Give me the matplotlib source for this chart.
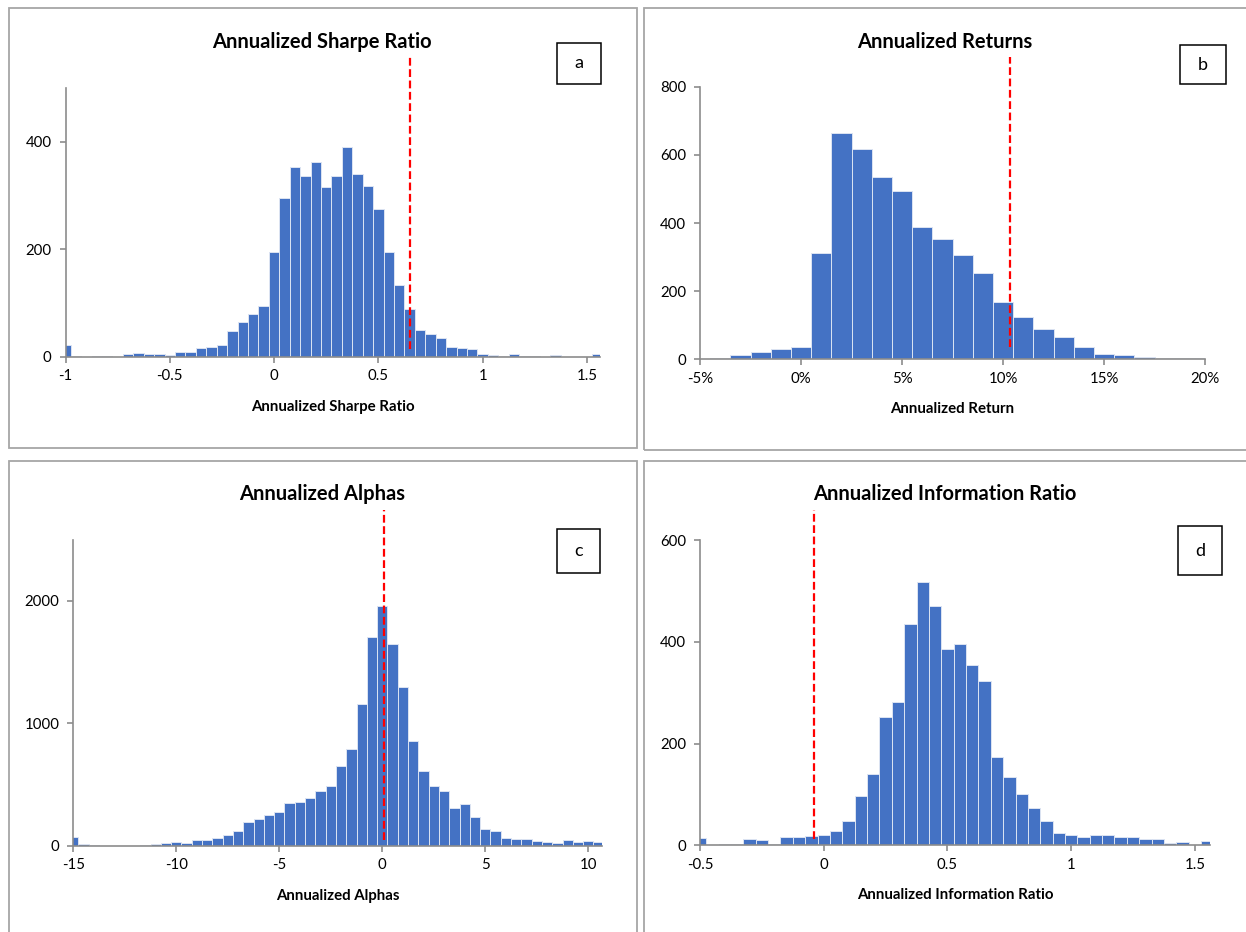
import numpy as np
import matplotlib
matplotlib.use("Agg")
import matplotlib.pyplot as plt
from matplotlib.patches import Rectangle

plt.rcParams["font.family"] = ["Lato", "DejaVu Sans"]
plt.rcParams["axes.unicode_minus"] = False

W, H = 1246, 932
BAR = "#4472C4"
GRID = "#8C8C8C"

# ---- data (bin centres, counts) ----
sharpe_centers = np.round(np.arange(-1.0, 1.551, 0.05), 2)
sharpe_counts = [22, 2, 0, 2, 2, 0, 5, 8, 5, 5, 4, 10, 9, 17, 18, 23, 48, 65, 80, 95,
                 196, 295, 354, 337, 363, 316, 337, 390, 340, 318, 276, 195, 134, 90,
                 51, 42, 36, 19, 16, 14, 5, 4, 2, 5, 1, 2, 0, 3, 0, 0, 0, 5]
sharpe_ref = 0.65

ret_centers = np.arange(-5, 21, 1)
ret_counts = [2, 5, 13, 21, 30, 37, 311, 663, 617, 536, 494, 388, 352, 307, 254,
              167, 123, 90, 66, 36, 16, 13, 8, 5, 5, 4]
ret_ref = 10.36

alpha_centers = np.arange(-15, 10.51, 0.5)
alpha_counts = [74, 11, 2, 1, 1, 1, 1, 2, 11, 22, 30, 22, 46, 44, 60, 90, 117, 191,
                218, 248, 275, 351, 360, 390, 444, 485, 654, 793, 1158, 1703, 1959,
                1651, 1297, 853, 610, 490, 444, 311, 338, 232, 134, 117, 63, 54, 54,
                35, 30, 25, 44, 30, 35, 30]
alpha_ref = 0.07

ir_centers = np.round(np.arange(-0.5, 1.551, 0.05), 2)
ir_counts = [14, 0, 3, 2, 12, 10, 3, 17, 16, 18, 20, 28, 48, 97, 140, 252, 281, 434,
             517, 470, 385, 396, 354, 322, 173, 134, 101, 73, 48, 25, 21, 16, 20, 20,
             16, 17, 13, 12, 4, 7, 1, 8]
ir_ref = -0.04


def px_axes(fig, left, right, top, bottom):
    return fig.add_axes([left / W, 1 - bottom / H, (right - left) / W, (bottom - top) / H])


def style_axes(ax):
    for s in ["top", "right"]:
        ax.spines[s].set_visible(False)
    for s in ["left", "bottom"]:
        ax.spines[s].set_color(GRID)
        ax.spines[s].set_linewidth(1.2)
    ax.tick_params(colors=GRID, labelcolor="black", labelsize=10.8, length=4, width=1.2)
    ax.tick_params(axis="x", pad=5)
    ax.tick_params(axis="y", pad=6)


def panel(fig, box, centers, counts, width, xlim, ylim, xticks, xticklabels, yticks,
          xlabel, ref, ref_span):
    ax = px_axes(fig, *box)
    ax.bar(centers, counts, width=width, color=BAR, edgecolor="#DCE4F2", lw=0.7)
    ax.set_xlim(*xlim)
    ax.set_ylim(*ylim)
    ax.set_xticks(xticks)
    ax.set_xticklabels(xticklabels)
    ax.set_yticks(yticks)
    ax.set_yticklabels([str(t) for t in yticks])
    ax.set_xlabel(xlabel, fontsize=10.8, fontweight="bold", labelpad=12)
    ax.plot([ref, ref], ref_span, color="#FF0000", lw=1.6, ls=(0, (3.5, 1.6)),
            clip_on=False, zorder=5)
    style_axes(ax)
    return ax


def frame(fig, left, top, right, bottom):
    fig.patches.append(Rectangle((left / W, 1 - bottom / H), (right - left) / W,
                                 (bottom - top) / H, transform=fig.transFigure,
                                 fill=False, ec="#A6A6A6", lw=1.3))


def label_box(fig, left, top, right, bottom, letter):
    fig.patches.append(Rectangle((left / W, 1 - bottom / H), (right - left) / W,
                                 (bottom - top) / H, transform=fig.transFigure,
                                 fill=False, ec="black", lw=1.1))
    fig.text((left + right) / 2 / W, 1 - (top + bottom) / 2 / H, letter,
             ha="center", va="center", fontsize=13)


fig = plt.figure(figsize=(W / 100, H / 100), dpi=100)

frame(fig, 8.5, 7.5, 636.5, 447.5)
frame(fig, 644, 7.5, 1252, 450)
frame(fig, 8.5, 461, 636.5, 940)
frame(fig, 644, 461, 1252, 940)

TITLE_SIZE = 14.5

# a) Sharpe ratio
panel(fig, (65.5, 600, 88, 357), sharpe_centers, sharpe_counts, 0.05,
      (-1, 1.5625), (0, 500), [-1, -0.5, 0, 0.5, 1, 1.5],
      ["-1", "-0.5", "0", "0.5", "1", "1.5"], [0, 200, 400],
      "Annualized Sharpe Ratio", sharpe_ref, [15, 561])
fig.text(322 / W, 1 - 42 / H, "Annualized Sharpe Ratio", ha="center", va="center",
         fontsize=TITLE_SIZE, fontweight="bold")
label_box(fig, 557, 43, 601, 84, "a")

# b) Returns
panel(fig, (700, 1205, 86.7, 359.3), ret_centers, ret_counts, 1.0,
      (-5, 20), (0, 800), [-5, 0, 5, 10, 15, 20],
      ["-5%", "0%", "5%", "10%", "15%", "20%"], [0, 200, 400, 600, 800],
      "Annualized Return", ret_ref, [37, 887])
fig.text(945 / W, 1 - 42 / H, "Annualized Returns", ha="center", va="center",
         fontsize=TITLE_SIZE, fontweight="bold")
label_box(fig, 1180, 45, 1226, 84, "b")

# c) Alphas
panel(fig, (73.3, 601.7, 539.8, 845.7), alpha_centers, alpha_counts, 0.5,
      (-15, 10.65), (0, 2500), [-15, -10, -5, 0, 5, 10],
      ["-15", "-10", "-5", "0", "5", "10"], [0, 1000, 2000],
      "Annualized Alphas", alpha_ref, [47, 2744])
fig.text(322 / W, 1 - 494 / H, "Annualized Alphas", ha="center", va="center",
         fontsize=TITLE_SIZE, fontweight="bold")
label_box(fig, 557, 529, 600, 573, "c")

# d) Information ratio
panel(fig, (700, 1210, 540, 845.3), ir_centers, ir_counts, 0.05,
      (-0.5, 1.561), (0, 600), [-0.5, 0, 0.5, 1, 1.5],
      ["-0.5", "0", "0.5", "1", "1.5"], [0, 200, 400, 600],
      "Annualized Information Ratio", ir_ref, [12, 659])
fig.text(945 / W, 1 - 494 / H, "Annualized Information Ratio", ha="center", va="center",
         fontsize=TITLE_SIZE, fontweight="bold")
label_box(fig, 1178, 526, 1222, 575, "d")

fig.savefig("out.png", dpi=100)
